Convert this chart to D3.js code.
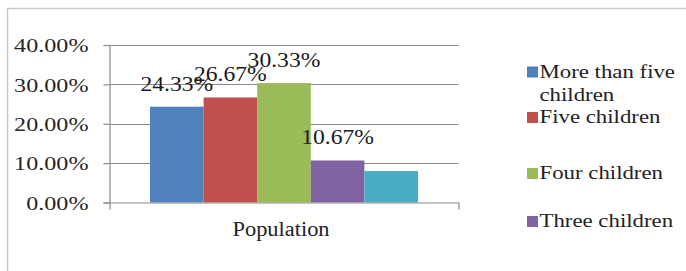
<!DOCTYPE html>
<html>
<head>
<meta charset="utf-8">
<script src="https://cdn.jsdelivr.net/npm/d3@7/dist/d3.min.js"></script>
<style>
  html, body { margin: 0; padding: 0; background: #fff; }
  svg { display: block; }
  svg text { font-family: "Liberation Serif", Tinos, "Times New Roman", Times, "DejaVu Serif", serif !important; }
</style>
</head>
<body>
<svg id="chart" width="686" height="271"></svg>
<script>
// ---- data ----
const category = "Population";
const seriesNames = ["More than five children", "Five children", "Four children", "Three children", "Two children"];
const seriesValues = [0.2433, 0.2667, 0.3033, 0.1067, 0.08];
const seriesColors = ["#4F81BD", "#C0504D", "#9BBB59", "#8064A2", "#4BACC6"];
const labelShown = [true, true, true, true, false];
const legendShown = [true, true, true, true, false];
const legendLines = [["More than five", "children"], ["Five children"], ["Four children"], ["Three children"], ["Two children"]];
const yTicks = [0, 0.1, 0.2, 0.3, 0.4];

// ---- layout ----
const svg = d3.select("#chart");
const plot = { left: 109.5, right: 458.5, top: 45, bottom: 202.5 };
const barsRange = [150, 418];
const legendBaselines = [77.5, 123, 179, 227];

function stretch(sel, f) {
  sel.each(function () {
    const w = this.getComputedTextLength();
    d3.select(this).attr("textLength", w * f).attr("lengthAdjust", "spacingAndGlyphs");
  });
}

// outer border
svg.append("path")
  .attr("d", "M7.5,271 V8.5 H686")
  .attr("fill", "none").attr("stroke", "#c6c6c6").attr("stroke-width", 1.5);

const y = d3.scaleLinear().domain([0, 0.4]).range([plot.bottom, plot.top]);
const x = d3.scaleBand().domain(seriesNames).range(barsRange).padding(0);

// gridlines
svg.append("g").selectAll("line").data(yTicks.slice(1)).join("line")
  .attr("x1", plot.left).attr("x2", plot.right)
  .attr("y1", d => Math.round(y(d)) + 0.5).attr("y2", d => Math.round(y(d)) + 0.5)
  .attr("stroke", "#8a8a8a").attr("stroke-width", 1.2);

// y axis
const yAxis = svg.append("g").attr("transform", `translate(${plot.left},0)`)
  .call(d3.axisLeft(y).tickValues(yTicks).tickFormat(d3.format(".2%")).tickSize(6).tickPadding(15));
yAxis.attr("font-family", null);
yAxis.select(".domain").attr("stroke", "#8a8a8a").attr("stroke-width", 1.2);
yAxis.selectAll(".tick line").attr("stroke", "#8a8a8a").attr("stroke-width", 1.2);
yAxis.selectAll(".tick text")
  .attr("font-size", 19).attr("fill", "#262626")
  .attr("dy", "0.36em");
stretch(yAxis.selectAll(".tick text"), 1.27);

// bars
svg.append("g").selectAll("rect").data(seriesNames).join("rect")
  .attr("x", d => x(d)).attr("width", x.bandwidth())
  .attr("y", (d, i) => y(seriesValues[i]))
  .attr("height", (d, i) => y(0) - y(seriesValues[i]))
  .attr("fill", (d, i) => seriesColors[i]);

// x axis (category boundaries)
const xEdge = d3.scaleLinear().domain([0, 1]).range([plot.left, plot.right]);
const xAxis = svg.append("g").attr("transform", `translate(0,${plot.bottom})`)
  .call(d3.axisBottom(xEdge).tickValues([0, 1]).tickFormat("").tickSize(7).tickSizeOuter(0));
xAxis.select(".domain").attr("stroke", "#8a8a8a").attr("stroke-width", 1.2);
xAxis.selectAll(".tick line").attr("stroke", "#8a8a8a").attr("stroke-width", 1.2);

const xCat = d3.scaleBand().domain([category]).range([plot.left - 3, plot.right - 3]);
const xCatAxis = svg.append("g").attr("transform", `translate(0,${plot.bottom})`)
  .call(d3.axisBottom(xCat).tickSize(0).tickPadding(19));
xCatAxis.attr("font-family", null);
xCatAxis.select(".domain").remove();
xCatAxis.selectAll(".tick text")
  .attr("font-size", 20).attr("fill", "#222")
  .attr("dy", "0.71em");
stretch(xCatAxis.selectAll(".tick text"), 1.12);

// data labels
const lbl = svg.append("g").selectAll("text")
  .data(seriesNames.filter((d, i) => labelShown[i])).join("text")
  .attr("x", d => x(d) + x.bandwidth() / 2)
  .attr("y", d => y(seriesValues[seriesNames.indexOf(d)]) - 16)
  .attr("text-anchor", "middle")
  .attr("font-size", 20).attr("fill", "#1a1a1a")
  .text(d => d3.format(".2%")(seriesValues[seriesNames.indexOf(d)]));
stretch(lbl, 1.18);

// legend
const leg = svg.append("g");
seriesNames.forEach((name, i) => {
  if (!legendShown[i]) return;
  const by = legendBaselines[i];
  leg.append("rect").attr("x", 527).attr("y", by - 11).attr("width", 11).attr("height", 11)
    .attr("fill", seriesColors[i]);
  legendLines[i].forEach((ln, k) => {
    leg.append("text").attr("x", 539.5).attr("y", by + k * 23)
      .attr("font-size", 19).attr("fill", "#222").text(ln);
  });
});
stretch(leg.selectAll("text"), 1.2);
</script>
</body>
</html>
